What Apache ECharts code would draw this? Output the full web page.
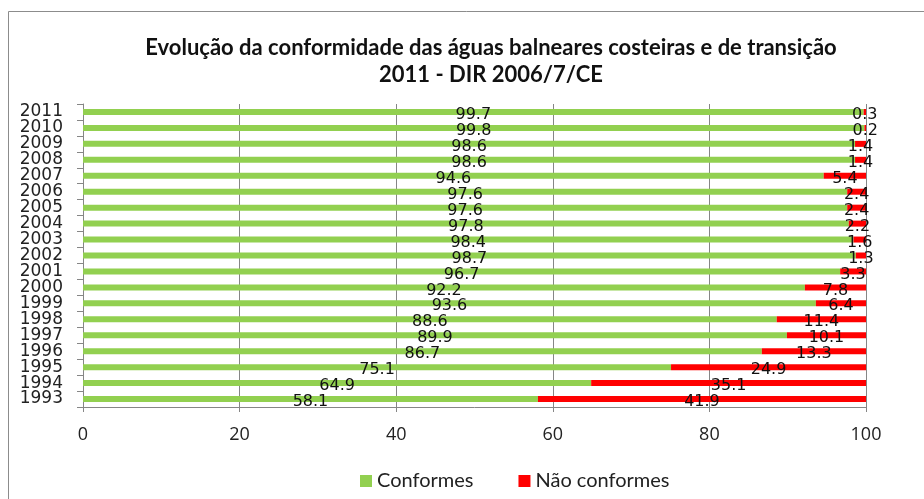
<!DOCTYPE html>
<html>
<head>
<meta charset="utf-8">
<script src="https://cdn.jsdelivr.net/npm/echarts@6/dist/echarts.min.js"></script>
<style>
  html, body { margin: 0; padding: 0; background: #fff; }
  #chart { width: 924px; height: 499px; }
</style>
</head>
<body>
<div id="chart"></div>
<script>
// anos (de baixo para cima no gráfico)
var anos = ['1993', '1994', '1995', '1996', '1997', '1998', '1999', '2000', '2001', '2002',
            '2003', '2004', '2005', '2006', '2007', '2008', '2009', '2010', '2011'];
var conformes = [58.1, 64.9, 75.1, 86.7, 89.9, 88.6, 93.6, 92.2, 96.7, 98.7,
                 98.4, 97.8, 97.6, 97.6, 94.6, 98.6, 98.6, 99.8, 99.7];
var naoConformes = [41.9, 35.1, 24.9, 13.3, 10.1, 11.4, 6.4, 7.8, 3.3, 1.3,
                    1.6, 2.2, 2.4, 2.4, 5.4, 1.4, 1.4, 0.2, 0.3];
var xTicks = [0, 20, 40, 60, 80, 100];

var chart = echarts.init(document.getElementById('chart'));

var rotulo = {
    show: true,
    position: 'inside',
    offset: [0, 3],
    color: '#111',
    fontFamily: 'DejaVu Sans',
    fontSize: 16
};

var option = {
    backgroundColor: '#fff',
    animation: false,
    graphic: [{
        type: 'rect',
        shape: { x: 8.5, y: 11.5, width: 1000, height: 1000 },
        style: { fill: 'none', stroke: '#8c8c8c', lineWidth: 1 },
        silent: true
    }],
    title: {
        text: 'Evolução da conformidade das águas balneares costeiras e de transição\n2011 - DIR 2006/7/CE',
        left: 486,
        top: 29,
        textAlign: 'center',
        textStyle: {
            fontFamily: 'Lato',
            fontWeight: 'bold',
            fontSize: 22,
            lineHeight: 27,
            color: '#111'
        }
    },
    legend: {
        left: 355,
        top: 466,
        itemWidth: 12,
        itemHeight: 12,
        itemGap: 45,
        icon: 'rect',
        textStyle: { fontFamily: 'Lato', fontSize: 20, color: '#222' },
        data: ['Conformes', 'Não conformes']
    },
    grid: {
        left: 83,
        right: 58,
        top: 104,
        bottom: 92,
        containLabel: false
    },
    xAxis: {
        type: 'value',
        min: 0,
        max: 100,
        interval: 20,
        axisLine: { show: true, lineStyle: { color: '#868686' } },
        axisTick: { show: true, length: 5, lineStyle: { color: '#868686' } },
        axisLabel: {
            margin: 19,
            fontFamily: 'Open Sans',
            fontSize: 18,
            color: '#222',
            formatter: function (v) { return xTicks.indexOf(v) >= 0 ? String(v) : ''; }
        },
        splitLine: { show: true, lineStyle: { color: '#868686', width: 1 } }
    },
    yAxis: {
        type: 'category',
        data: anos,
        axisLine: { show: true, lineStyle: { color: '#868686' } },
        axisTick: { show: true, length: 6, lineStyle: { color: '#868686' } },
        axisLabel: {
            margin: 20,
            fontFamily: 'DejaVu Sans',
            fontSize: 17,
            color: '#222',
            interval: 0
        },
        splitLine: { show: false }
    },
    series: [{
        name: 'Conformes',
        type: 'bar',
        stack: 'total',
        data: conformes,
        barWidth: 6,
        itemStyle: { color: '#92D050' },
        label: rotulo
    }, {
        name: 'Não conformes',
        type: 'bar',
        stack: 'total',
        data: naoConformes,
        barWidth: 6,
        itemStyle: { color: '#FF0000' },
        label: rotulo
    }]
};

chart.setOption(option);
</script>
</body>
</html>
